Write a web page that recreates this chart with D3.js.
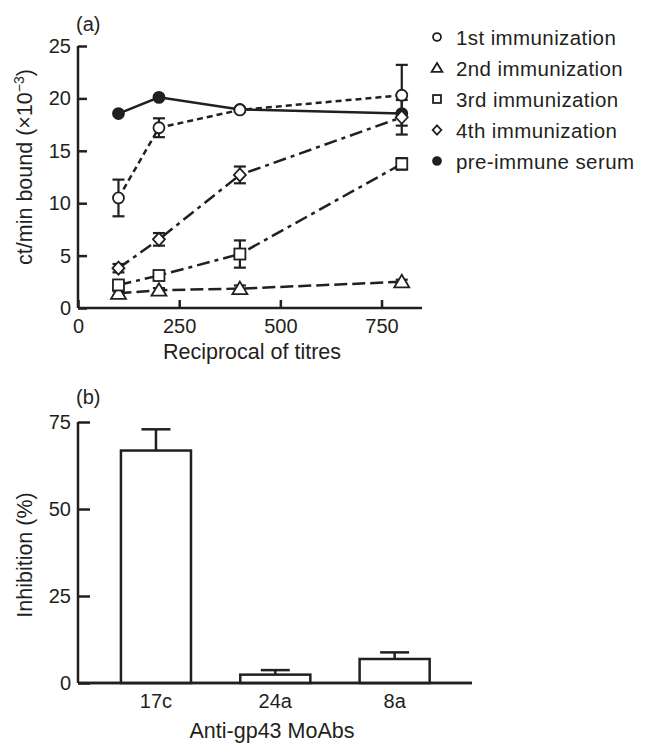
<!DOCTYPE html>
<html><head><meta charset="utf-8">
<script src="https://cdn.jsdelivr.net/npm/d3@7"></script>
<style>
body{margin:0;background:#fff;}
text{font-family:"Liberation Sans",Arial,sans-serif;fill:#231f20;}
</style></head>
<body><svg id="c" width="651" height="752"></svg>
<script>
// ---- Panel (a) data ----
const titres = [100, 200, 400, 800];
const seriesNames = ["1st immunization","2nd immunization","3rd immunization","4th immunization","pre-immune serum"];
const imm1 = [10.5, 17.2, 18.9, 20.3];
const imm1Err = [1.75, 0.9, 0.2, 2.9];
const imm2 = [1.4, 1.7, 1.85, 2.5];
const imm2Err = [0.2, 0.2, 0.3, 0.2];
const imm3 = [2.2, 3.1, 5.15, 13.75];
const imm3Err = [0.3, 0.2, 1.3, 0.55];
const imm4 = [3.8, 6.55, 12.7, 18.2];
const imm4Err = [0.4, 0.6, 0.8, 1.65];
const preImmune = [18.55, 20.1, 18.95, 18.55];
const preImmuneErr = [0, 0, 0, 0];
const xTicksA = [0, 250, 500, 750];
const yTicksA = [0, 5, 10, 15, 20, 25];

// ---- Panel (b) data ----
const moabs = ["17c", "24a", "8a"];
const inhibition = [66.8, 2.4, 6.9];
const inhibitionErr = [6.1, 1.3, 1.9];
const yTicksB = [0, 25, 50, 75];

const ink = "#231f20";
const svg = d3.select("#c");

// ================= Panel (a) =================
const xA = d3.scaleLinear().domain([0, 850]).range([78, 422]);
const yA = d3.scaleLinear().domain([0, 25]).range([308, 46]);
const gA = svg.append("g");

const axXA = gA.append("g").attr("transform", `translate(0,${yA(0)})`)
  .call(d3.axisBottom(xA).tickValues(xTicksA).tickSize(-8).tickPadding(11).tickFormat(d3.format("d")));
const axYA = gA.append("g").attr("transform", `translate(${xA(0)},0)`)
  .call(d3.axisLeft(yA).tickValues(yTicksA).tickSize(-9).tickPadding(7).tickFormat(d3.format("d")));
[axXA, axYA].forEach(a => {
  a.select(".domain").attr("stroke", ink).attr("stroke-width", 2.5);
  a.selectAll(".tick line").attr("stroke", ink).attr("stroke-width", 2.5);
  a.selectAll(".tick text").attr("font-size", 20).style("font-family", "Liberation Sans, Arial").attr("fill", ink);
});
axXA.select(".domain").attr("d", `M${xA(0)},0H${xA(850)}`);
axYA.select(".domain").attr("d", `M0,${yA(0)}V${yA(25)}`);

gA.append("text").attr("x", 252).attr("y", 359).attr("text-anchor", "middle")
  .attr("font-size", 21.5).text("Reciprocal of titres");
const yt = gA.append("text").attr("transform", "translate(32,167) rotate(-90)")
  .attr("text-anchor", "middle").attr("font-size", 21.5);
yt.append("tspan").text("ct/min bound (×10");
yt.append("tspan").attr("dy", -8).attr("font-size", 14).text("−3");
yt.append("tspan").attr("dy", 8).text(")");
gA.append("text").attr("x", 76).attr("y", 31).attr("font-size", 20).text("(a)");

const series = [
  {name: seriesNames[0], v: imm1, e: imm1Err, dash: "6,4", shape: "circle"},
  {name: seriesNames[1], v: imm2, e: imm2Err, dash: "13,5", shape: "triangle"},
  {name: seriesNames[2], v: imm3, e: imm3Err, dash: "13,5,4,5", shape: "square"},
  {name: seriesNames[3], v: imm4, e: imm4Err, dash: "13,5,4,5", shape: "diamond"},
  {name: seriesNames[4], v: preImmune, e: preImmuneErr, dash: null, shape: "filled"}
];

function marker(g, shape, s) {
  let el;
  if (shape === "circle") el = g.append("circle").attr("r", 5.5*s).attr("fill", "#fff");
  else if (shape === "filled") el = g.append("circle").attr("r", 5.5*s).attr("fill", ink);
  else if (shape === "square") el = g.append("rect").attr("x", -5.5*s).attr("y", -5.5*s).attr("width", 11*s).attr("height", 11*s).attr("fill", "#fff");
  else if (shape === "triangle") el = g.append("path").attr("d", `M0,${-7*s}L${7.5*s},${5.5*s}L${-7.5*s},${5.5*s}Z`).attr("fill", "#fff");
  else if (shape === "diamond") el = g.append("path").attr("d", `M0,${-6.5*s}L${6*s},0L0,${6.5*s}L${-6*s},0Z`).attr("fill", "#fff");
  el.attr("stroke", ink).attr("stroke-width", 1.8);
}

const line = d3.line().x((d, i) => xA(titres[i])).y(d => yA(d));
series.forEach(s => {
  gA.append("path").attr("d", line(s.v)).attr("fill", "none").attr("stroke", ink)
    .attr("stroke-width", 2.5).attr("stroke-dasharray", s.dash);
});
series.forEach(s => {
  s.v.forEach((v, i) => {
    if (!s.e[i]) return;
    const x = xA(titres[i]), y1 = yA(v + s.e[i]), y0 = yA(v - s.e[i]);
    const eb = gA.append("g").attr("stroke", ink).attr("stroke-width", 2.2);
    eb.append("line").attr("x1", x).attr("x2", x).attr("y1", y0).attr("y2", y1);
    eb.append("line").attr("x1", x-6).attr("x2", x+6).attr("y1", y0).attr("y2", y0);
    eb.append("line").attr("x1", x-6).attr("x2", x+6).attr("y1", y1).attr("y2", y1);
  });
});
[series[4], series[0], series[1], series[2], series[3]].forEach(s => {
  s.v.forEach((v, i) => {
    const g = gA.append("g").attr("transform", `translate(${xA(titres[i])},${yA(v)})`);
    marker(g, s.shape, 1);
  });
});

// legend
const legY = [37, 68, 99, 130, 161];
series.forEach((s, i) => {
  const g = svg.append("g").attr("transform", `translate(437,${legY[i]})`);
  marker(g, s.shape, 0.72);
  svg.append("text").attr("x", 456).attr("y", legY[i] + 7.5).attr("font-size", 20.5)
    .attr("letter-spacing", 0.4).text(s.name);
});

// ================= Panel (b) =================
const xB = d3.scaleBand().domain(moabs).range([96.3, 454.3]).paddingInner(0.413).paddingOuter(0.2065);
const yB = d3.scaleLinear().domain([0, 75]).range([683, 422]);
const gB = svg.append("g");

const axYB = gB.append("g").attr("transform", `translate(78,0)`)
  .call(d3.axisLeft(yB).tickValues(yTicksB).tickSize(-12).tickPadding(7).tickFormat(d3.format("d")));
const axXB = gB.append("g").attr("transform", `translate(0,${yB(0)})`)
  .call(d3.axisBottom(xB).tickSize(0).tickPadding(11));
[axXB, axYB].forEach(a => {
  a.select(".domain").attr("stroke", ink).attr("stroke-width", 2.5);
  a.selectAll(".tick line").attr("stroke", ink).attr("stroke-width", 2.5);
  a.selectAll(".tick text").attr("font-size", 20).style("font-family", "Liberation Sans, Arial").attr("fill", ink);
});
axXB.select(".domain").attr("d", "M78,0H472");
axYB.select(".domain").attr("d", `M0,${yB(0)}V${yB(75)}`);

gB.selectAll("rect.bar").data(moabs).enter().append("rect")
  .attr("x", d => xB(d)).attr("width", xB.bandwidth())
  .attr("y", (d, i) => yB(inhibition[i])).attr("height", (d, i) => yB(0) - yB(inhibition[i]))
  .attr("fill", "#fff").attr("stroke", ink).attr("stroke-width", 2.5);
moabs.forEach((m, i) => {
  const cx = xB(m) + xB.bandwidth()/2;
  const eb = gB.append("g").attr("stroke", ink).attr("stroke-width", 2.5);
  eb.append("line").attr("x1", cx).attr("x2", cx).attr("y1", yB(inhibition[i])).attr("y2", yB(inhibition[i] + inhibitionErr[i]));
  eb.append("line").attr("x1", cx-14.5).attr("x2", cx+14.5).attr("y1", yB(inhibition[i] + inhibitionErr[i])).attr("y2", yB(inhibition[i] + inhibitionErr[i]));
});
gB.append("line").attr("x1", 78).attr("x2", 472).attr("y1", yB(0)).attr("y2", yB(0)).attr("stroke", ink).attr("stroke-width", 2.5);

gB.append("text").attr("x", 272).attr("y", 738).attr("text-anchor", "middle")
  .attr("font-size", 21.5).text("Anti-gp43 MoAbs");
gB.append("text").attr("transform", "translate(32,555) rotate(-90)").attr("text-anchor", "middle")
  .attr("font-size", 21.5).text("Inhibition (%)");
gB.append("text").attr("x", 76).attr("y", 404).attr("font-size", 20).text("(b)");
</script></body></html>
